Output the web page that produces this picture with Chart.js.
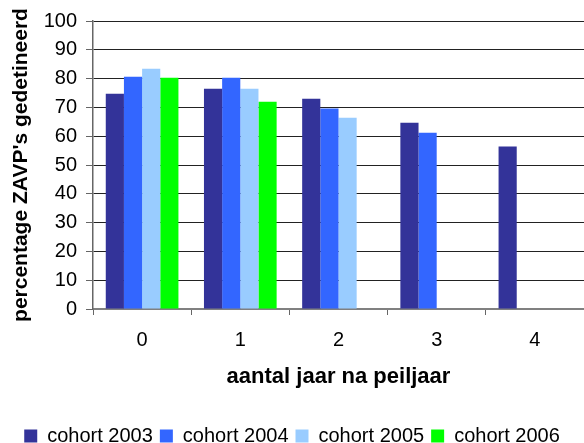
<!DOCTYPE html>
<html>
<head>
<meta charset="utf-8">
<script src="https://cdn.jsdelivr.net/npm/chart.js@4/dist/chart.umd.min.js"></script>
<style>
  html, body { margin: 0; padding: 0; background: #fff; }
  #wrap { width: 584px; height: 443px; }
</style>
</head>
<body>
<div id="wrap"><canvas id="c" width="584" height="443"></canvas></div>
<script>
const categories = ["0", "1", "2", "3", "4"];
const cohort2003 = [74.7, 76.5, 73.0, 64.7, 56.4];
const cohort2004 = [80.6, 80.3, 69.6, 61.2, null];
const cohort2005 = [83.4, 76.5, 66.4, null, null];
const cohort2006 = [80.3, 72.0, null, null, null];
const seriesNames = ["cohort 2003", "cohort 2004", "cohort 2005", "cohort 2006"];
const seriesColors = ["#333399", "#3366FF", "#99CCFF", "#00FF00"];
const yTitle = "percentage ZAVP's gedetineerd";
const xTitle = "aantal jaar na peiljaar";

const FONT = "'Liberation Sans', Arial, sans-serif";
const values = [cohort2003, cohort2004, cohort2005, cohort2006];

new Chart(document.getElementById('c'), {
  type: 'bar',
  data: {
    labels: categories,
    datasets: values.map((v, i) => ({
      label: seriesNames[i],
      data: v,
      backgroundColor: seriesColors[i],
      borderWidth: 0,
      categoryPercentage: 0.74,
      barPercentage: 1.0
    }))
  },
  options: {
    responsive: false,
    animation: false,
    layout: { padding: { top: 10, right: 0, left: 0, bottom: -13 } },
    plugins: {
      legend: {
        position: 'bottom',
        labels: {
          boxWidth: 13, boxHeight: 13,
          color: '#000',
          font: { family: FONT, size: 20 },
          padding: 7
        }
      },
      tooltip: { enabled: false }
    },
    scales: {
      x: {
        grid: { display: true, drawOnChartArea: false, drawTicks: true, tickLength: 6, tickColor: '#666', offset: true },
        border: { display: true, color: '#808080', width: 2 },
        ticks: { color: '#000', font: { family: FONT, size: 20 }, padding: 13 },
        title: { display: true, text: xTitle, color: '#000', font: { family: FONT, size: 22, weight: 'bold' }, padding: { top: 8, bottom: 29 } },
        afterFit: (s) => { s.height = 110; }
      },
      y: {
        min: 0, max: 100,
        ticks: { stepSize: 10, color: '#000', font: { family: FONT, size: 20 }, padding: 9 },
        grid: { color: '#222', lineWidth: 1, drawTicks: true, tickLength: 7, tickColor: '#666' },
        border: { display: true, color: '#666', width: 1.5 },
        title: { display: true, text: yTitle, color: '#000', font: { family: FONT, size: 21, weight: 'bold' }, padding: { top: 9, bottom: 4 } },
        afterFit: (s) => { s.width = 93; }
      }
    }
  }
});
</script>
</body>
</html>
